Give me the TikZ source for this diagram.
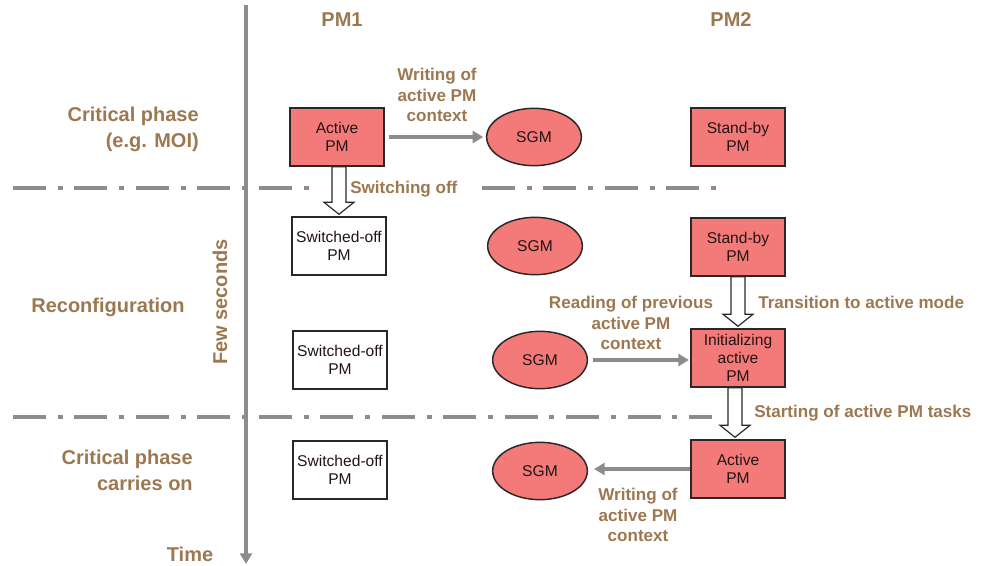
\documentclass[tikz,border=0pt]{standalone}
\usepackage{fontspec}
\setmainfont{Liberation Sans}
\usetikzlibrary{shapes.geometric,arrows.meta,calc}
\definecolor{phasebrown}{RGB}{156,120,80}
\definecolor{pinkfill}{RGB}{244,122,122}
\definecolor{linegrey}{RGB}{140,140,140}
\definecolor{boxtext}{RGB}{35,20,20}
\definecolor{boxedge}{RGB}{40,40,40}
\newcommand{\blkdown}[3]{%
  \draw[blockarrow] ($(#2.north |- #1.south)+(#3-7,0)$) -- ($(#2.north)+(#3-7,-14)$) -- ($(#2.north)+(#3-15,-14)$) -- ($(#2.north)+(#3,-2)$) -- ($(#2.north)+(#3+15,-14)$) -- ($(#2.north)+(#3+7,-14)$) -- ($(#2.north |- #1.south)+(#3+7,0)$) -- cycle;}
\tikzset{
  pmbox/.style={draw=boxedge, line width=1.1pt, minimum width=70.5pt, minimum height=43.5pt, inner sep=1pt, align=center, font=\fontsize{11.7}{13.5}\selectfont, text=boxtext},
  redbox/.style={pmbox, fill=pinkfill},
  offbox/.style={pmbox, fill=white},
  sgm/.style={ellipse, draw=boxedge, fill=pinkfill, line width=1.1pt, minimum width=71pt, minimum height=43pt, inner sep=0pt, font=\fontsize{11.7}{13.5}\selectfont, text=boxtext},
  phase/.style={text=phasebrown, font=\bfseries\fontsize{15}{19.5}\selectfont, align=right, inner sep=0pt},
  lbl/.style={text=phasebrown, font=\bfseries\fontsize{12.8}{15.4}\selectfont, align=center, inner sep=0pt},
  conn/.style={draw=linegrey, line width=2.6pt, -{Triangle[length=8pt,width=9pt]}},
  phaseline/.style={draw=linegrey, line width=3pt, dash pattern=on 24.75pt off 8.8pt on 3.75pt off 8.8pt},
  blockarrow/.style={draw=boxedge, line width=0.9pt, fill=white, line join=miter},
  timeline/.style={draw=linegrey, line width=2.4pt, -{Triangle[length=8pt,width=9pt]}}
}
\begin{document}
\begin{tikzpicture}[x=0.75pt,y=-0.75pt]
\useasboundingbox (0,0) rectangle (982,565);
% time axis
\coordinate (ttop) at (246,5);
\coordinate (tbot) at (246,564);
\draw[timeline] (ttop) -- (tbot);
% phase separators
\coordinate (l1a) at (13,188);
\coordinate (l1b) at (311,188);
\coordinate (l1c) at (482,188);
\coordinate (l1d) at (716,188);
\coordinate (l2a) at (13,417);
\coordinate (l2b) at (712,417);
\draw[phaseline] (l1a) -- (l1b);
\draw[phaseline] (l1c) -- (l1d);
\draw[phaseline] (l2a) -- (l2b);
% titles
\node[phase] (pm1) at (342,20) {PM1};
\node[phase] (pm2) at (731,20) {PM2};
\node[phase, anchor=east] (ph1) at (199,129) {Critical phase\\(e.g. MOI)};
\node[phase] (ph2) at (108,307) {Reconfiguration};
\node[phase, anchor=east] (ph3) at (193,470) {Critical phase\\carries on};
\node[phase] (time) at (190,554) {Time};
\node[phase, rotate=90] (few) at (220,302) {Few seconds};
% nodes
\node[redbox] (a1) at (337,137) {Active\\PM};
\node[sgm] (s1) at (534,137) {SGM};
\node[redbox] (b1) at (738,137) {Stand-by\\PM};
\node[offbox] (a2) at (339,246) {Switched-off\\PM};
\node[sgm] (s2) at (535,246) {SGM};
\node[redbox] (b2) at (738,247) {Stand-by\\PM};
\node[offbox] (a3) at (340,360) {Switched-off\\PM};
\node[sgm] (s3) at (540,360) {SGM};
\node[redbox] (b3) at (738,358) {Initializing\\active\\PM};
\node[offbox] (a4) at (340,470) {Switched-off\\PM};
\node[sgm] (s4) at (540,471) {SGM};
\node[redbox] (b4) at (738,469) {Active\\PM};
% connectors
\draw[conn, shorten <=3pt, shorten >=2pt] (a1.east) -- (s1.west);
\draw[conn, shorten <=4pt, shorten >=1pt] (s3.east) -- (s3.east -| b3.west);
\draw[conn, shorten >=4.5pt] (b4.west) -- (b4.west -| s4.east);
\blkdown{a1}{a2}{0}
\blkdown{b2}{b3}{0}
\blkdown{b3}{b4}{-3}
% labels
\node[lbl] (w1) at (437,95) {Writing of\\active PM\\context};
\node[lbl, anchor=west] (sw) at (350,189) {Switching off};
\node[lbl, anchor=west] (tr) at (758,302) {Transition to active mode};
\node[lbl] (rd) at (631,323) {Reading of previous\\active PM\\context};
\node[lbl, anchor=west] (st) at (754,413) {Starting of active PM tasks};
\node[lbl] (w2) at (638,515) {Writing of\\active PM\\context};
\end{tikzpicture}
\end{document}
